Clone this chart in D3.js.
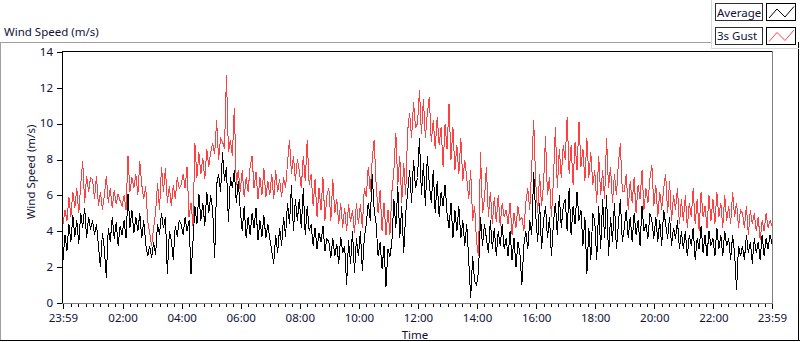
<!DOCTYPE html>
<meta charset="utf-8">
<script src="https://d3js.org/d3.v7.min.js"></script>
<style>
  body { margin: 0; background: #fff; }
  text { font-family: "Noto Sans", sans-serif; font-size: 11.5px; fill: #101038; }
</style>
<div id="chart"></div>
<script>

    // one value every 4 minutes, starting 23:59 the day before (15 per hour)
    const stepMinutes = 4;
    const seriesNames = ["Average", "3s Gust"];
    const tickLabels = ["23:59", "02:00", "04:00", "06:00", "08:00", "10:00", "12:00",
        "14:00", "16:00", "18:00", "20:00", "22:00", "23:59"];
    const yTicks = [0, 2, 4, 6, 8, 10, 12, 14];

    const average = [
        2.4, 3.8, 2.9, 4.4, 3.4, 4.9, 3.7, 4.6, 3.3, 5.0, 4.2, 5.3, 3.6, 4.8, 4.1,
        4.6, 3.8, 4.4, 3.2, 2.0, 3.9, 3.0, 1.4, 4.2, 3.4, 4.8, 3.6, 4.5, 3.2, 4.3,
        3.8, 4.6, 3.6, 6.1, 4.2, 5.2, 3.9, 4.8, 4.0, 5.0, 3.6, 4.6, 3.3, 2.6, 3.2,
        2.5, 3.4, 2.7, 4.4, 3.8, 5.0, 4.2, 4.8, 1.6, 4.0, 3.5, 2.4, 4.3, 3.7, 4.6,
        4.4, 3.8, 4.8, 4.0, 4.6, 1.6, 3.4, 5.4, 4.4, 6.1, 4.6, 5.6, 4.3, 6.2, 5.0,
        6.0, 5.2, 2.5, 6.6, 7.2, 6.2, 8.4, 6.8, 7.6, 4.5, 7.0, 6.4, 7.4, 5.6, 6.8,
        5.2, 4.0, 5.4, 3.6, 4.8, 3.8, 5.0, 4.2, 5.3, 3.5, 4.6, 3.7, 4.9, 3.6, 4.4,
        3.6, 2.9, 2.2, 3.8, 2.8, 4.2, 3.2, 4.8, 3.7, 5.6, 4.4, 6.6, 4.0, 5.8, 4.6,
        5.8, 4.2, 6.4, 3.8, 5.4, 4.0, 4.4, 3.2, 4.2, 3.0, 3.9, 3.4, 4.3, 2.9, 3.6,
        3.4, 2.5, 3.6, 2.6, 3.3, 2.2, 3.7, 2.8, 3.2, 1.0, 3.5, 2.2, 4.0, 1.7, 3.6,
        2.6, 4.0, 1.8, 3.6, 4.4, 5.6, 4.6, 7.2, 5.2, 4.4, 2.6, 3.4, 1.9, 3.2, 0.9,
        3.0, 2.6, 3.4, 5.8, 4.2, 6.5, 3.6, 5.4, 2.8, 5.0, 6.2, 7.4, 5.6, 8.0, 6.4,
        7.0, 9.2, 6.0, 7.8, 5.4, 8.2, 6.6, 5.6, 7.4, 5.0, 6.8, 4.8, 6.2, 5.4, 6.6,
        5.0, 4.2, 5.6, 3.6, 5.2, 4.0, 5.4, 3.6, 4.6, 3.2, 4.4, 2.4, 0.3, 2.6, 1.2,
        1.0, 1.8, 4.8, 3.2, 4.4, 3.6, 2.8, 4.6, 3.0, 4.2, 2.6, 4.0, 3.2, 4.4, 3.0,
        3.6, 2.6, 4.0, 2.4, 3.6, 2.0, 3.4, 2.8, 1.0, 3.2, 4.0, 3.0, 4.6, 3.8, 7.3,
        5.0, 3.4, 5.6, 3.0, 4.6, 5.4, 3.6, 4.8, 2.6, 4.4, 5.6, 3.8, 6.0, 4.2, 5.4,
        5.8, 4.0, 6.4, 3.8, 5.4, 4.4, 6.2, 4.6, 5.2, 3.2, 4.8, 1.6, 4.2, 2.4, 5.0,
        4.6, 2.4, 5.4, 3.0, 5.8, 3.6, 6.0, 2.6, 4.8, 3.4, 5.6, 3.0, 4.4, 5.8, 3.4,
        4.2, 5.2, 3.6, 4.8, 3.4, 5.0, 3.8, 4.6, 3.2, 5.4, 4.0, 4.4, 3.6, 5.0, 4.6,
        3.6, 4.8, 3.4, 4.6, 3.2, 5.2, 4.4, 3.6, 4.8, 3.2, 4.2, 3.6, 4.6, 3.0, 4.0,
        3.0, 4.0, 2.6, 3.8, 3.2, 4.2, 2.4, 3.6, 3.0, 4.3, 2.8, 3.8, 2.6, 4.0, 3.2,
        3.6, 2.6, 4.2, 3.0, 3.8, 2.6, 4.0, 3.2, 3.6, 2.4, 3.8, 2.8, 0.7, 3.2, 2.6,
        3.2, 2.4, 3.8, 2.8, 3.4, 2.2, 3.6, 2.8, 3.4, 2.4, 3.8, 2.6, 3.6, 3.0, 3.8, 3.3
    ];

    const gust = [
        4.4, 5.2, 4.6, 5.9, 4.8, 6.2, 5.3, 6.4, 5.0, 6.6, 7.9, 5.6, 7.1, 6.2, 7.0,
        6.9, 5.8, 7.1, 5.4, 6.2, 5.2, 6.0, 7.1, 5.6, 6.4, 5.3, 6.3, 5.5, 6.1, 5.7,
        5.4, 6.0, 5.2, 8.2, 6.2, 7.0, 6.4, 7.2, 6.0, 7.9, 6.6, 5.8, 6.5, 4.6, 3.9,
        3.2, 4.2, 5.0, 6.7, 5.2, 7.6, 6.2, 7.5, 5.6, 6.5, 5.4, 6.6, 5.8, 7.0, 6.4,
        6.6, 7.2, 6.4, 7.6, 4.8, 5.6, 4.3, 8.9, 7.0, 8.4, 7.2, 8.1, 6.9, 8.6, 7.6,
        8.4, 8.9, 8.3, 10.2, 8.0, 9.2, 9.0, 8.6, 12.7, 8.4, 9.1, 8.2, 10.9, 6.6, 7.4,
        6.2, 7.4, 5.9, 7.0, 6.2, 7.6, 8.2, 6.4, 7.3, 5.8, 7.0, 6.0, 7.5, 5.9, 6.8,
        6.0, 7.2, 5.8, 7.4, 6.2, 6.9, 5.9, 7.0, 6.4, 7.8, 9.1, 7.2, 8.2, 6.8, 8.0,
        7.4, 6.4, 8.2, 6.8, 9.1, 6.6, 7.2, 5.4, 6.9, 4.8, 6.4, 5.2, 7.0, 4.6, 6.0,
        6.4, 4.6, 6.9, 5.0, 5.8, 4.4, 5.6, 4.2, 5.3, 4.0, 5.5, 4.5, 5.2, 3.9, 5.6,
        4.4, 5.5, 4.2, 6.4, 5.9, 7.6, 6.2, 8.0, 9.1, 6.6, 5.0, 6.3, 4.0, 5.6, 3.8,
        5.2, 3.8, 6.2, 7.4, 9.5, 6.6, 8.2, 5.6, 7.8, 6.0, 9.6, 10.6, 9.2, 11.2, 9.8,
        10.0, 11.9, 9.4, 11.4, 9.2, 10.6, 11.5, 9.0, 10.2, 8.6, 10.4, 8.8, 9.8, 7.6, 10.0,
        8.6, 11.1, 8.0, 9.8, 7.4, 8.8, 7.2, 9.2, 6.8, 8.0, 7.0, 5.8, 7.4, 4.6, 5.4,
        3.4, 2.6, 8.4, 5.0, 5.8, 7.6, 4.8, 6.2, 4.4, 5.9, 4.5, 6.0, 4.3, 5.6, 4.8,
        5.2, 4.4, 5.6, 3.8, 5.0, 4.2, 5.4, 4.6, 4.8, 4.0, 5.6, 6.4, 5.2, 7.6, 10.2,
        6.8, 5.0, 7.2, 5.4, 6.6, 9.3, 6.0, 7.0, 4.8, 6.8, 9.8, 6.4, 8.6, 7.0, 8.8,
        8.0, 10.4, 7.2, 8.8, 6.6, 9.0, 7.4, 10.1, 7.6, 8.6, 6.8, 9.2, 7.0, 8.4, 6.6,
        7.4, 5.6, 8.2, 6.0, 7.4, 5.8, 9.2, 6.4, 7.6, 5.6, 7.2, 6.0, 7.8, 8.9, 6.2,
        6.2, 7.2, 5.2, 6.8, 5.6, 7.0, 5.0, 6.6, 5.8, 7.4, 5.2, 6.4, 5.6, 6.9, 7.7,
        5.4, 6.6, 4.8, 6.2, 5.2, 6.4, 7.2, 5.0, 6.8, 4.6, 6.0, 5.2, 6.4, 4.4, 5.8,
        4.6, 6.0, 4.2, 5.6, 4.8, 6.4, 4.4, 5.8, 4.0, 6.2, 4.8, 5.4, 4.2, 6.0, 4.6,
        5.8, 4.4, 6.2, 4.8, 5.6, 4.2, 6.0, 4.6, 5.4, 4.4, 6.2, 4.8, 5.6, 4.2, 5.2,
        5.0, 4.2, 5.4, 3.8, 5.2, 4.4, 5.0, 4.0, 4.8, 3.5, 4.6, 4.0, 5.0, 4.2, 4.6, 4.3
    ];

    const width = 800, height = 342;
    const plot = {left: 63, right: 772, top: 52, bottom: 303};

    const svg = d3.select("#chart")
        .append("svg")
        .attr("width", width)
        .attr("height", height);

    const start = new Date(2024, 0, 1, 23, 59);
    const end = d3.timeMinute.offset(start, 1440);
    const times = average.map((d, i) => d3.timeMinute.offset(start, i * stepMinutes));

    const x = d3.scaleTime().domain([start, end]).range([plot.left, plot.right]);
    const y = d3.scaleLinear().domain([0, 14]).range([plot.bottom, plot.top]);

    // panel frame (sunken look: grey top/left, black bottom/right)
    const hline = (x1, x2, yy, c) => svg.append("line").attr("x1", x1).attr("x2", x2)
        .attr("y1", yy).attr("y2", yy).attr("stroke", c).attr("shape-rendering", "crispEdges");
    const vline = (xx, y1, y2, c) => svg.append("line").attr("x1", xx).attr("x2", xx)
        .attr("y1", y1).attr("y2", y2).attr("stroke", c).attr("shape-rendering", "crispEdges");

    hline(0, 712, 42.5, "#a0a0a0");
    vline(0.5, 42, 341, "#a0a0a0");
    hline(0, 800, 340.5, "#000");
    vline(798.5, 42, 341, "#000");

    svg.append("text").attr("x", 4).attr("y", 36).text("Wind Speed (m/s)");

    // data
    svg.append("clipPath").attr("id", "clip")
        .append("rect").attr("x", plot.left).attr("y", plot.top)
        .attr("width", plot.right - plot.left).attr("height", plot.bottom - plot.top);

    const line = d3.line().x((d, i) => x(times[i])).y(d => y(d));

    svg.append("path").datum(average)
        .attr("clip-path", "url(#clip)")
        .attr("fill", "none").attr("stroke", "#000").attr("stroke-width", 1)
        .attr("shape-rendering", "crispEdges")
        .attr("d", line);
    svg.append("path").datum(gust)
        .attr("clip-path", "url(#clip)")
        .attr("fill", "none").attr("stroke", "#ff4040").attr("stroke-width", 1)
        .attr("shape-rendering", "crispEdges")
        .attr("d", line);

    // plot frame
    hline(plot.left - 1, plot.right + 1, plot.top - 0.5, "#000");
    vline(plot.left - 0.5, plot.top - 1, plot.bottom + 1, "#000");
    hline(plot.left - 1, plot.right + 1, plot.bottom + 0.5, "#808080");
    vline(plot.right + 0.5, plot.top - 1, plot.bottom + 1, "#808080");

    // y axis
    const yAxis = svg.append("g")
        .attr("transform", `translate(${plot.left - 1},0)`)
        .call(d3.axisLeft(y).tickValues(yTicks).tickSize(5).tickPadding(4).tickFormat(d3.format("d")));
    yAxis.select(".domain").remove();
    yAxis.selectAll("line").attr("stroke", "#000").attr("shape-rendering", "crispEdges");
    yAxis.selectAll("text").attr("font-size", null).attr("font-family", null).attr("dy", "0.28em");

    // x axis, major + minor ticks
    const majorTicks = tickLabels.map((lab, i) => {
        if (i === 0) return start;
        if (i === tickLabels.length - 1) return end;
        return new Date(2024, 0, 2, +lab.slice(0, 2), 0);
    });
    const minorTicks = d3.timeMinute.every(15).range(start, end);

    const xMinor = svg.append("g")
        .attr("transform", `translate(0,${plot.bottom + 1})`)
        .call(d3.axisBottom(x).tickValues(minorTicks).tickSize(3).tickFormat(""));
    xMinor.select(".domain").remove();
    xMinor.selectAll("line").attr("stroke", "#000").attr("shape-rendering", "crispEdges");

    const xAxis = svg.append("g")
        .attr("transform", `translate(0,${plot.bottom + 1})`)
        .call(d3.axisBottom(x).tickValues(majorTicks).tickSize(5).tickPadding(5)
            .tickFormat((d, i) => tickLabels[i]));
    xAxis.select(".domain").remove();
    xAxis.selectAll("line").attr("stroke", "#000").attr("shape-rendering", "crispEdges");
    xAxis.selectAll("text").attr("font-size", null).attr("font-family", null);

    svg.append("text").attr("x", 415).attr("y", 339).attr("text-anchor", "middle").text("Time");
    svg.append("text")
        .attr("transform", "translate(35,172) rotate(-90)")
        .attr("text-anchor", "middle")
        .text("Wind Speed (m/s)");

    // legend
    vline(711.5, 0, 49, "#d8d8d8");
    hline(711, 799, 48.5, "#d8d8d8");
    const colors = ["#000", "#ff4040"];
    seriesNames.forEach((name, i) => {
        const top = 3.5 + i * 23.5;
        svg.append("rect").attr("x", 715.5).attr("y", top).attr("width", 47).attr("height", 17)
            .attr("fill", "#fff").attr("stroke", "#303030").attr("shape-rendering", "crispEdges");
        svg.append("text").attr("x", 717).attr("y", top + 13).text(name);
        svg.append("rect").attr("x", 766.5).attr("y", top).attr("width", 29).attr("height", 17)
            .attr("fill", "#fff").attr("stroke", "#000").attr("shape-rendering", "crispEdges");
        svg.append("polyline")
            .attr("points", [[769, top + 14.5], [777, top + 5.5], [785, top + 13.5], [794, top + 3]].join(" "))
            .attr("fill", "none").attr("stroke", colors[i]);
    });

</script>
